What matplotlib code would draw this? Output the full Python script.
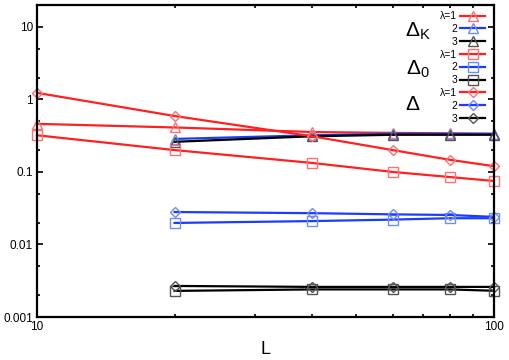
import matplotlib.pyplot as plt
from matplotlib.ticker import FixedLocator, NullFormatter

plt.rcParams['font.family'] = ['Liberation Sans', 'DejaVu Sans']
plt.rcParams['mathtext.fontset'] = 'custom'
plt.rcParams['mathtext.rm'] = 'Liberation Sans'
plt.rcParams['mathtext.it'] = 'Liberation Sans'

L_all = [10, 20, 40, 60, 80, 100]
L_from20 = [20, 40, 60, 80, 100]

# Delta_K
dk_1 = [0.46, 0.41, 0.355, 0.345, 0.34, 0.335]
dk_2 = [0.285, 0.32, 0.335, 0.335, 0.335]
dk_3 = [0.26, 0.31, 0.325, 0.325, 0.325]
# Delta_0
d0_1 = [0.32, 0.20, 0.133, 0.10, 0.085, 0.075]
d0_2 = [0.0198, 0.021, 0.022, 0.023, 0.023]
d0_3 = [0.00229, 0.0024, 0.0024, 0.0024, 0.0023]
# Delta
d_1 = [1.23, 0.59, 0.31, 0.20, 0.147, 0.12]
d_2 = [0.028, 0.027, 0.026, 0.0255, 0.024]
d_3 = [0.00268, 0.0026, 0.0026, 0.0026, 0.0026]

fig = plt.figure(figsize=(5.1, 3.6), dpi=100)
ax = fig.add_axes([37 / 510, 1 - 317 / 360, 457 / 510, 312 / 360])

line_col = {1: '#ff2020', 2: '#1a3cff', 3: '#000000'}
mark_col = {1: '#ff7070', 2: '#6f8cff', 3: '#555555'}

series = [
    ('^', [(L_all, dk_1, 1), (L_from20, dk_2, 2), (L_from20, dk_3, 3)]),
    ('s', [(L_all, d0_1, 1), (L_from20, d0_2, 2), (L_from20, d0_3, 3)]),
    ('D', [(L_all, d_1, 1), (L_from20, d_2, 2), (L_from20, d_3, 3)]),
]

handles = []
labels = []
for marker, group in series:
    for x, y, lam in group:
        ms = 5.5 if marker == 'D' else 7.5
        h, = ax.plot(x, y, color=line_col[lam], lw=1.6, marker=marker,
                     ms=ms, mfc='none', mec=mark_col[lam], mew=1.0,
                     clip_on=False)
        handles.append(h)
        labels.append('λ=1' if lam == 1 else str(lam))

ax.set_xscale('log')
ax.set_yscale('log')
ax.set_xlim(10, 100)
ax.set_ylim(0.001, 20)

ax.xaxis.set_major_locator(FixedLocator([10, 100]))
ax.xaxis.set_minor_locator(FixedLocator([20, 30, 40, 50, 60, 70, 80, 90]))
ax.xaxis.set_minor_formatter(NullFormatter())
ax.set_xticklabels(['10', '100'])
ax.yaxis.set_major_locator(FixedLocator([0.001, 0.01, 0.1, 1, 10]))
ax.yaxis.set_minor_locator(FixedLocator([0.002, 0.005, 0.02, 0.05, 0.2, 0.5, 2, 5]))
ax.yaxis.set_minor_formatter(NullFormatter())
ax.set_yticklabels(['0.001', '0.01', '0.1', '1', '10'])

ax.tick_params(which='both', direction='in', top=True, right=True, width=1.2)
ax.tick_params(which='major', length=4, labelsize=8.5, pad=3)
ax.tick_params(which='minor', length=2.5)
for s in ax.spines.values():
    s.set_linewidth(1.6)

ax.set_xlabel('L', fontsize=13, labelpad=6)

leg = ax.legend(handles, labels, loc='upper right', bbox_to_anchor=(0.995, 1.0),
                frameon=False, markerfirst=False, fontsize=7.5,
                handlelength=2.4, labelspacing=0.27, handletextpad=0.3,
                borderaxespad=0.2)

ax.text(0.834, 0.915, r'$\Delta_{\rm K}$', transform=ax.transAxes,
        fontsize=15, ha='center', va='center')
ax.text(0.834, 0.795, r'$\Delta_{\rm 0}$', transform=ax.transAxes,
        fontsize=15, ha='center', va='center')
ax.text(0.823, 0.68, r'$\Delta$', transform=ax.transAxes,
        fontsize=15, ha='center', va='center')

fig.savefig('out.png', dpi=100)
